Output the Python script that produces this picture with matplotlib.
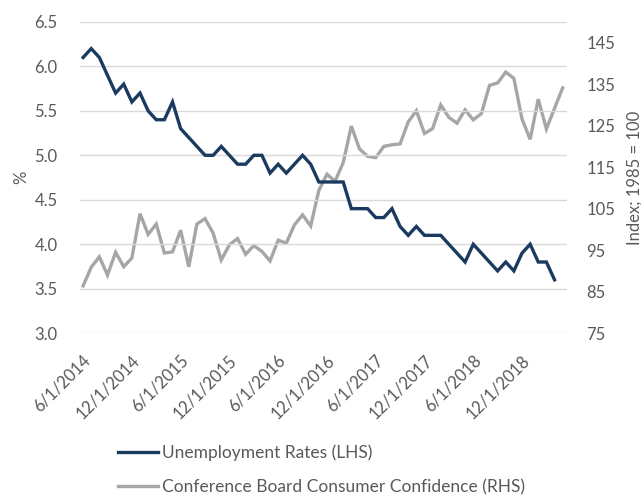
import pandas as pd
import numpy as np
import matplotlib.pyplot as plt
from matplotlib.transforms import ScaledTranslation

plt.rcParams['font.family'] = ['Lato', 'DejaVu Sans']

months = pd.date_range('2014-06-01', '2019-05-01', freq='MS')

unemployment = [6.1, 6.2, 6.1, 5.9, 5.7, 5.8, 5.6, 5.7, 5.5, 5.4, 5.4, 5.6,
                5.3, 5.2, 5.1, 5.0, 5.0, 5.1, 5.0, 4.9, 4.9, 5.0, 5.0, 4.8,
                4.9, 4.8, 4.9, 5.0, 4.9, 4.7, 4.7, 4.7, 4.7, 4.4, 4.4, 4.4,
                4.3, 4.3, 4.4, 4.2, 4.1, 4.2, 4.1, 4.1, 4.1, 4.0, 3.9, 3.8,
                4.0, 3.9, 3.8, 3.7, 3.8, 3.7, 3.9, 4.0, 3.8, 3.8, 3.6]

confidence = [86.4, 90.9, 93.4, 89.0, 94.5, 91.0, 93.1, 103.8, 98.8, 101.3, 94.3, 94.6,
              99.8, 91.0, 101.3, 102.6, 99.1, 92.6, 96.3, 97.8, 94.0, 96.1, 94.7, 92.4,
              97.4, 96.7, 101.1, 103.5, 100.8, 109.4, 113.3, 111.6, 116.1, 124.9, 119.4, 117.6,
              117.3, 120.0, 120.4, 120.6, 125.9, 128.6, 123.1, 124.3, 130.0, 127.0, 125.6, 128.8,
              126.4, 127.9, 134.7, 135.3, 137.9, 136.4, 126.6, 121.7, 131.4, 124.2, 129.2, 134.1]

tick_labels = ['6/1/2014', '12/1/2014', '6/1/2015', '12/1/2015', '6/1/2016',
               '12/1/2016', '6/1/2017', '12/1/2017', '6/1/2018', '12/1/2018']

navy = '#1b3a5f'
grey = '#a6a6a6'
txt = '#595959'

fig = plt.figure(figsize=(6.44, 4.98), dpi=100)
ax = fig.add_axes([0.124, 0.331, 0.756, 0.625])
ax2 = ax.twinx()

x_ue = np.arange(len(unemployment))
x_cc = np.arange(len(confidence))
l1, = ax.plot(x_ue, unemployment, color=navy, lw=2.4, solid_joinstyle='miter',
              label='Unemployment Rates (LHS)', zorder=3)
l2, = ax2.plot(x_cc, confidence, color=grey, lw=2.4, solid_joinstyle='miter',
               label='Conference Board Consumer Confidence (RHS)')
ax.set_zorder(ax2.get_zorder() + 1)
ax.patch.set_visible(False)

ax.set_ylim(3.0, 6.5)
ax.set_yticks(np.arange(3.0, 6.51, 0.5))
ax.set_yticklabels([f'{v:.1f}' for v in np.arange(3.0, 6.51, 0.5)])
ax2.set_ylim(75, 150)
ax2.set_yticks(np.arange(75, 146, 10))
ax.set_xlim(-0.4, 59.5)

# monthly index positions of the half-year labels
tick_pos = [months.get_loc(pd.Timestamp(t)) for t in tick_labels]
ax.set_xticks(tick_pos)
ax.set_xticklabels(tick_labels, rotation=45, ha='right', va='center',
                   rotation_mode='anchor')

ax.grid(axis='y', color='#d9d9d9', lw=1)
ax.set_axisbelow(True)
for a in (ax, ax2):
    for s in a.spines.values():
        s.set_visible(False)
    a.tick_params(length=0, labelsize=12, labelcolor=txt)
ax.tick_params(axis='y', pad=16)
ax.tick_params(axis='x', pad=18)
shift = ScaledTranslation(0.05, 0, fig.dpi_scale_trans)
for lbl in ax.get_xticklabels():
    lbl.set_transform(lbl.get_transform() + shift)
ax2.tick_params(axis='y', pad=14)

ax.set_ylabel('%', fontsize=12, color=txt, labelpad=4)
ax2.set_ylabel('Index; 1985 = 100', fontsize=12, color=txt, labelpad=8)

fig.legend(handles=[l1, l2], loc='upper left', bbox_to_anchor=(0.17, 0.125),
           frameon=False, fontsize=12.5, labelcolor=txt, handlelength=2.3,
           handletextpad=0.25, labelspacing=1.05, borderpad=0)

fig.savefig('out.png', dpi=100)
